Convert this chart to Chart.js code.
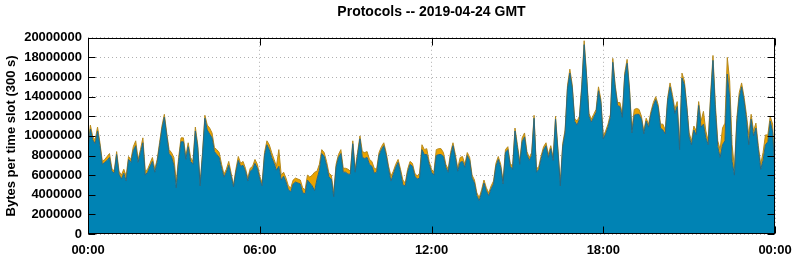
<!DOCTYPE html>
<html><head><meta charset="utf-8">
<script src="https://cdn.jsdelivr.net/npm/chart.js@4/dist/chart.umd.min.js"></script>
<style>html,body{margin:0;padding:0;background:#fff}#wrap{width:795px;height:260px}</style>
</head><body><div id="wrap"><canvas id="c" width="795" height="260"></canvas></div>
<script>
// 5-minute slots 0..288 (00:00 .. 24:00)
const chartTitle = 'Protocols -- 2019-04-24 GMT';
const yAxisTitle = 'Bytes per time slot (300 s)';
const xTickLabels = ['00:00', '06:00', '12:00', '18:00', '00:00'];

// bottom (blue) protocol, bytes per slot
const blueBytes = [
8700000,10700000,9600000,9200000,10500000,9000000,7100000,7300000,7500000,7800000,
6400000,6200000,8100000,6100000,5600000,6200000,5400000,7600000,7300000,8500000,
9000000,7300000,8300000,9300000,6000000,6300000,6900000,7400000,6300000,7300000,
9000000,10700000,11900000,10000000,8200000,7900000,7000000,4700000,7400000,9400000,
9400000,7600000,8900000,7400000,7100000,10500000,8800000,4900000,8000000,11800000,
10600000,10200000,9800000,8400000,8100000,7800000,6700000,5800000,6300000,7000000,
5900000,4800000,6300000,7500000,6900000,7000000,6400000,5400000,6400000,6600000,
7200000,6700000,5600000,4900000,8000000,9100000,8600000,7800000,7200000,6500000,
6900000,5500000,5900000,5300000,4500000,4300000,5100000,5300000,5200000,5100000,
4200000,4100000,5500000,5200000,4900000,4400000,5600000,6500000,8200000,7900000,
7000000,5800000,5600000,3800000,6800000,7800000,8200000,6300000,6300000,6100000,
6100000,9200000,6300000,8000000,9700000,7800000,7700000,7800000,7100000,6900000,
6200000,6300000,8000000,8600000,9000000,8000000,6600000,5400000,6100000,6800000,
7300000,6300000,5000000,4900000,6300000,7100000,6900000,5900000,5600000,5700000,
8600000,8100000,8100000,7100000,6300000,6000000,8000000,8100000,8100000,7900000,
6800000,6300000,8000000,9000000,7800000,6400000,7300000,7400000,6800000,8000000,
7500000,5700000,5200000,3900000,3400000,4200000,5200000,4400000,3900000,4600000,
5100000,6900000,7600000,6800000,5100000,8300000,8600000,6900000,6600000,10500000,
8800000,7100000,9400000,9900000,8100000,7500000,8000000,11800000,6300000,6600000,
7700000,8600000,9000000,7800000,8700000,7500000,11700000,8400000,4900000,8900000,
10300000,14800000,16400000,14900000,11500000,11100000,11700000,14900000,19300000,16000000,
12000000,11400000,11900000,12400000,14600000,13400000,9700000,10200000,10900000,11900000,
17500000,14900000,13100000,13000000,11900000,16100000,17400000,14600000,10300000,12100000,
12200000,12200000,11700000,10200000,11500000,10900000,12200000,13100000,13700000,12900000,
10800000,10600000,10200000,13600000,15000000,13800000,12300000,13000000,8600000,15900000,
15200000,12900000,9900000,9100000,10600000,10100000,13100000,10900000,11200000,9800000,
9100000,13700000,17700000,12600000,8900000,7800000,9100000,9500000,16300000,13900000,
7400000,6000000,11300000,13900000,15000000,13600000,11700000,9100000,11700000,10000000,
10800000,8600000,6600000,7500000,9100000,9400000,11500000,10400000,5700000
];

// top (orange) protocol, bytes per slot
const orangeBytes = [
300000,400000,300000,400000,400000,300000,300000,300000,400000,400000,
300000,200000,300000,300000,400000,400000,500000,300000,300000,400000,
500000,300000,300000,500000,400000,300000,300000,400000,300000,300000,
300000,300000,300000,300000,400000,400000,800000,600000,400000,400000,
400000,300000,400000,400000,300000,400000,300000,200000,300000,300000,
500000,600000,500000,400000,500000,500000,400000,300000,300000,400000,
300000,200000,300000,400000,300000,400000,300000,300000,300000,300000,
400000,400000,300000,300000,300000,400000,500000,500000,400000,400000,
1700000,500000,400000,400000,400000,400000,400000,400000,400000,400000,
500000,400000,500000,600000,1100000,1900000,800000,600000,400000,400000,
400000,400000,400000,400000,300000,300000,400000,400000,400000,500000,
300000,300000,300000,300000,300000,600000,600000,600000,500000,500000,
500000,300000,300000,300000,300000,300000,300000,500000,300000,300000,
300000,300000,500000,300000,300000,300000,300000,300000,300000,500000,
500000,500000,600000,300000,300000,300000,600000,600000,600000,400000,
300000,300000,300000,300000,300000,300000,500000,500000,300000,300000,
300000,300000,300000,300000,300000,300000,300000,300000,300000,300000,
300000,300000,300000,300000,300000,300000,300000,300000,300000,300000,
300000,300000,400000,400000,300000,300000,300000,300000,300000,300000,
300000,300000,300000,300000,300000,300000,300000,300000,300000,300000,
300000,300000,400000,300000,300000,400000,300000,300000,400000,300000,
300000,300000,300000,300000,400000,300000,300000,300000,300000,300000,
400000,300000,300000,400000,300000,300000,400000,300000,300000,600000,
600000,500000,300000,300000,300000,300000,300000,300000,300000,300000,
400000,600000,400000,300000,400000,400000,400000,500000,500000,500000,
400000,300000,400000,400000,400000,400000,400000,600000,1300000,700000,
400000,500000,500000,600000,600000,800000,1700000,1800000,1700000,1700000,
1700000,700000,500000,500000,400000,400000,500000,1000000,500000,500000,
500000,400000,500000,800000,1000000,700000,500000,800000,300000
];

const slotsPerDay = 288;
const xTickStep = 72;

const toPoints = arr => arr.map((v, i) => ({x: i, y: v}));
const FONT = 'Liberation Sans';

const framePlugin = {
  id: 'frame',
  afterDatasetsDraw(chart) {
    const {ctx, chartArea: a, scales: {x, y}} = chart;
    const L = Math.round(a.left) + 0.5, R = Math.round(a.right) - 0.5;
    const T = Math.round(a.top) + 0.5, B = Math.round(a.bottom) - 0.5;
    ctx.save();
    ctx.strokeStyle = '#000';
    ctx.lineWidth = 1;
    ctx.strokeRect(L, T, R - L, B - T);
    const len = 7;
    ctx.beginPath();
    y.ticks.forEach(t => {
      const py = Math.round(y.getPixelForValue(t.value)) + 0.5;
      ctx.moveTo(L, py); ctx.lineTo(L + len, py);
      ctx.moveTo(R, py); ctx.lineTo(R - len, py);
    });
    x.ticks.forEach(t => {
      const px = Math.round(x.getPixelForValue(t.value)) + 0.5;
      ctx.moveTo(px, B); ctx.lineTo(px, B - len);
      ctx.moveTo(px, T); ctx.lineTo(px, T + len);
    });
    ctx.stroke();
    ctx.restore();
  }
};

new Chart(document.getElementById('c'), {
  type: 'line',
  data: {
    datasets: [
      {label: 'blue', data: toPoints(blueBytes), backgroundColor: '#0083b4', borderColor: '#2a6880',
       borderWidth: 1, fill: 'origin', pointRadius: 0, tension: 0},
      {label: 'orange', data: toPoints(orangeBytes), backgroundColor: '#eaa300', borderColor: '#b68a1e',
       borderWidth: 1, fill: '-1', pointRadius: 0, tension: 0}
    ]
  },
  options: {
    responsive: false, animation: false, devicePixelRatio: 1,
    layout: {padding: {left: 0, right: 20, top: 0, bottom: 0}},
    plugins: {
      legend: {display: false}, tooltip: {enabled: false},
      title: {display: true, fullSize: false, text: chartTitle, color: '#000',
        font: {family: FONT, size: 14, weight: 'bold', lineHeight: 1.2},
        padding: {top: 4, bottom: 17}}
    },
    scales: {
      x: {
        type: 'linear', min: 0, max: slotsPerDay,
        ticks: {stepSize: xTickStep, autoSkip: false, maxRotation: 0, padding: 9, color: '#000',
          font: {family: FONT, size: 13, weight: 'bold'},
          callback: v => xTickLabels[Math.round(v / xTickStep)]},
        grid: {color: '#b0b0b0', lineWidth: 1, drawTicks: false},
        border: {display: false, dash: [1, 3]},
        afterFit: s => { s.height = 26; s.paddingLeft = 0; s.paddingRight = 0; }
      },
      y: {
        stacked: true, min: 0, max: 20000000,
        ticks: {stepSize: 2000000, padding: 6, color: '#000',
          font: {family: FONT, size: 13, weight: 'bold'},
          callback: v => String(v)},
        grid: {color: '#b0b0b0', lineWidth: 1, drawTicks: false},
        border: {display: false, dash: [1, 3]},
        title: {display: true, text: yAxisTitle, color: '#000',
          font: {family: FONT, size: 13, weight: 'bold', lineHeight: 1.2},
          padding: {top: 4, bottom: 0}},
        afterFit: s => { s.width = 88; s.paddingTop = 0; s.paddingBottom = 0; }
      }
    }
  },
  plugins: [framePlugin]
});
</script>
</body></html>
